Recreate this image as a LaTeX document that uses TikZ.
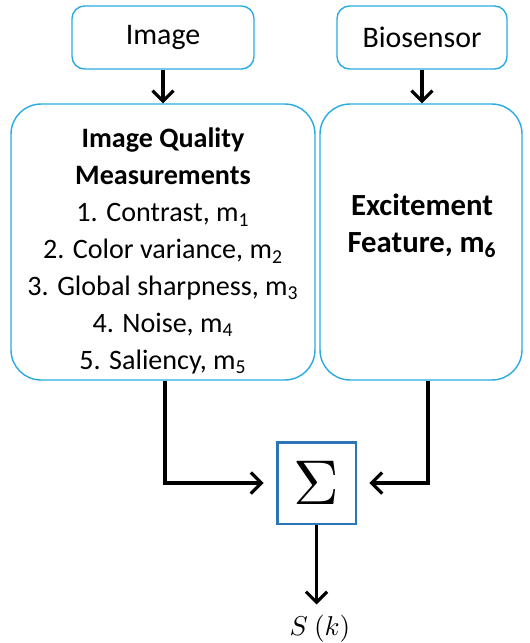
\documentclass[tikz,border=0pt]{standalone}
\usepackage{fontspec}
\setmainfont{Carlito}
\usetikzlibrary{arrows.meta, positioning}
\definecolor{boxcyan}{RGB}{41,171,226}
\definecolor{sumblue}{RGB}{46,117,182}

\tikzset{
  inbox/.style = {draw=boxcyan, line width=0.8pt, rounded corners=0.25cm,
    minimum height=1.26cm, font=\fontsize{17}{20}\selectfont},
  bigbox/.style = {draw=boxcyan, line width=0.8pt, rounded corners=0.6cm,
    minimum height=5.52cm},
  flow/.style = {draw, line width=1.8pt, -{Straight Barb[length=6pt,width=12pt]}}
}

\begin{document}
\begin{tikzpicture}[x=0.02cm, y=-0.02cm]
    \useasboundingbox (0,0) rectangle (529,643);
    % inputs
    \node[inbox, minimum width=3.64cm] (img) at (163,37.5) {Image};
    \node[inbox, minimum width=3.4cm] (bio) at (422,37.5) {Biosensor};
    % feature boxes
    \node[bigbox, minimum width=6.08cm] (iqm) at (163,242) {};
    \node[bigbox, minimum width=4.04cm] (feat) at (421,242) {};
    \begin{scope}[every node/.style = {align=center, font=\fontsize{16}{21}\selectfont}]
        \node (iqmtext) at (163,251) {\textbf{Image Quality}\\ \textbf{Measurements}\\
            1. Contrast, m\textsubscript{1}\\ 2. Color variance, m\textsubscript{2}\\
            3. Global sharpness, m\textsubscript{3}\\ 4. Noise, m\textsubscript{4}\\
            5. Saliency, m\textsubscript{5}};
        \node[font=\fontsize{17.5}{21}\selectfont] (feattext) at (422,226)
            {\textbf{Excitement}\\ \textbf{Feature, m\textsubscript{6}}};
    \end{scope}
    % sum
    \node[draw=sumblue, line width=1.7pt, minimum width=1.58cm, minimum height=1.64cm,
        inner sep=0pt] (sum) at (316.5,483) {\scalebox{3.6}{$\Sigma$}};
    \node[inner sep=2pt] (out) at (320,629) {\scalebox{1.55}{$S\ (k)$}};
    \draw[flow] (img) -- (iqm);
    \draw[flow] (bio) -- (bio |- feat.north);
    \draw[flow, shorten >=6.8pt] ([xshift=0.04cm]iqm.south) |- (sum.west);
    \draw[flow, shorten >=6.8pt] ([xshift=0.14cm]feat.south) |- (sum.east);
    \draw[flow, shorten >=4pt] (sum) -- (sum |- out.north);
\end{tikzpicture}
\end{document}
